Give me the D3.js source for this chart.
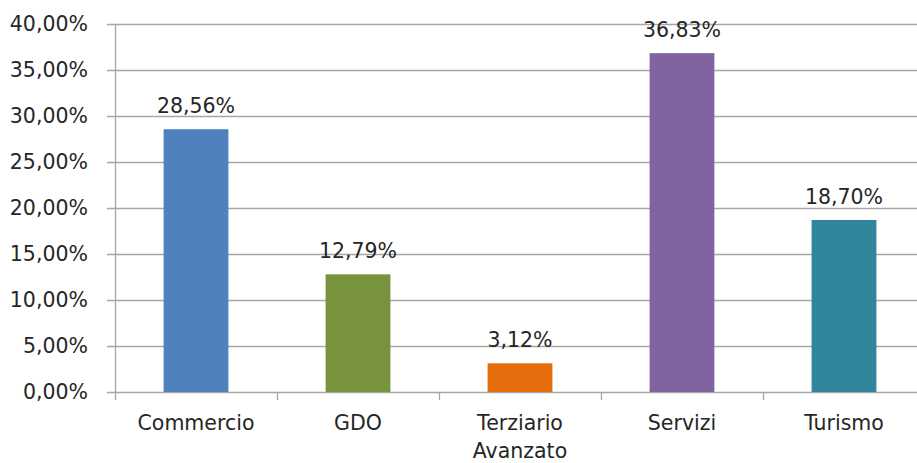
<!DOCTYPE html>
<html><head><meta charset="utf-8">
<script src="https://cdn.jsdelivr.net/npm/d3@7"></script>
<style>body{margin:0;background:#fff}svg{display:block}text{font-family:"DejaVu Sans",sans-serif;fill:#262626}</style>
</head><body><svg id="c" width="917" height="463"></svg>
<script>
const categories = ["Commercio", "GDO", "Terziario\nAvanzato", "Servizi", "Turismo"];
const values = [28.56, 12.79, 3.12, 36.83, 18.70];
const valueLabels = ["28,56%", "12,79%", "3,12%", "36,83%", "18,70%"];
const colors = ["#4F81BD", "#77933C", "#E46C0A", "#8064A2", "#31859C"];
const yTicks = [0, 5, 10, 15, 20, 25, 30, 35, 40];
const yTickLabels = ["0,00%", "5,00%", "10,00%", "15,00%", "20,00%", "25,00%", "30,00%", "35,00%", "40,00%"];

const svg = d3.select("#c");
const mLeft = 115, mRight = 925, mTop = 24, mBottom = 392;
const fs = 20.5;
const x = d3.scaleBand().domain(categories).range([mLeft, mRight]).paddingInner(0.6).paddingOuter(0.3);
const xb = d3.scaleBand().domain(categories).range([mLeft, mRight]);
const y = d3.scaleLinear().domain([0, 40]).range([mBottom, mTop]);

svg.append("g").selectAll("line").data(yTicks).join("line")
  .attr("x1", mLeft - 8).attr("x2", 917)
  .attr("y1", d => Math.round(y(d)) + 0.5).attr("y2", d => Math.round(y(d)) + 0.5)
  .attr("stroke", "#A6A6A6").attr("stroke-width", 1.3);

svg.append("line").attr("x1", mLeft + 0.5).attr("x2", mLeft + 0.5).attr("y1", mTop).attr("y2", mBottom)
  .attr("stroke", "#A6A6A6").attr("stroke-width", 1.3);

svg.append("g").selectAll("line").data(categories).join("line")
  .attr("x1", d => Math.round(xb(d)) + 0.5).attr("x2", d => Math.round(xb(d)) + 0.5)
  .attr("y1", mBottom).attr("y2", mBottom + 8)
  .attr("stroke", "#A6A6A6").attr("stroke-width", 1.3);

svg.append("g").selectAll("text").data(yTicks).join("text")
  .attr("x", 88).attr("y", d => y(d)).attr("dy", "0.36em")
  .attr("text-anchor", "end").attr("font-size", fs)
  .text((d, i) => yTickLabels[i]);

svg.append("g").selectAll("rect").data(values).join("rect")
  .attr("x", (d, i) => x(categories[i])).attr("width", x.bandwidth())
  .attr("y", d => y(d)).attr("height", d => mBottom - y(d))
  .attr("fill", (d, i) => colors[i]);

svg.append("g").selectAll("text").data(values).join("text")
  .attr("x", (d, i) => x(categories[i]) + x.bandwidth() / 2)
  .attr("y", d => y(d) - 16)
  .attr("text-anchor", "middle").attr("font-size", fs)
  .text((d, i) => valueLabels[i]);

const cl = svg.append("g").selectAll("text").data(categories).join("text")
  .attr("x", d => xb(d) + xb.bandwidth() / 2)
  .attr("y", 430)
  .attr("text-anchor", "middle").attr("font-size", fs);
cl.each(function(d) {
  const lines = d.split("\n");
  const t = d3.select(this);
  lines.forEach((l, j) => t.append("tspan").attr("x", t.attr("x")).attr("dy", j ? 28 : 0).text(l));
});
</script></body></html>
